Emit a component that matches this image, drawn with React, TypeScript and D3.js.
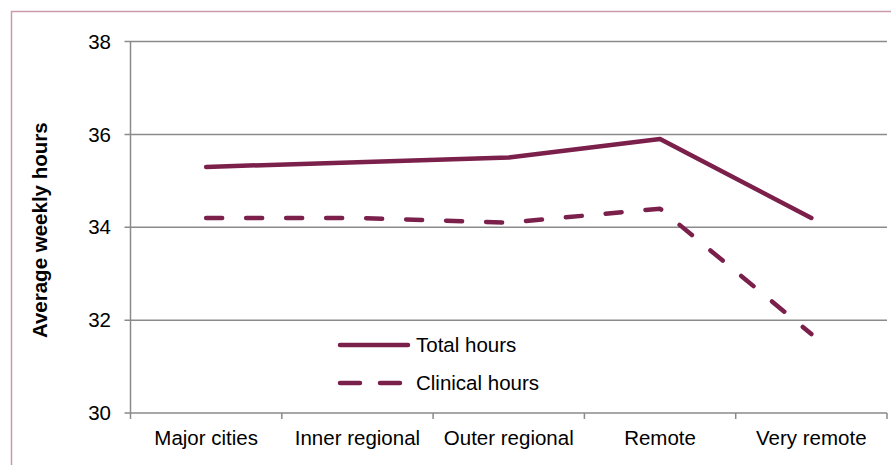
import React from "react";
import * as d3 from "d3";

const categories = ["Major cities", "Inner regional", "Outer regional", "Remote", "Very remote"];
const totalHours = [35.3, 35.4, 35.5, 35.9, 34.2];
const clinicalHours = [34.2, 34.2, 34.1, 34.4, 31.7];
const yTicks = [30, 32, 34, 36, 38];
const seriesNames = ["Total hours", "Clinical hours"];

const W = 891, H = 465;
const left = 130.5, right = 887, top = 41.5, bottom = 413;
const color = "#7b1f4b";
const grid = "#8a8a8a";
const font = "'Liberation Sans', Arial, sans-serif";
const fs = 20.5;

export default function App() {
  const x = d3.scaleBand<string>().domain(categories).range([left, right]);
  const y = d3.scaleLinear().domain([30, 38]).range([bottom, top]);
  const cx = (c: string) => (x(c) as number) + x.bandwidth() / 2;
  const line = d3.line<number>().x((_, i) => cx(categories[i])).y((d) => y(d));
  const edges = [...categories.map((c) => x(c) as number), right];

  return (
    <svg width={W} height={H} style={{ position: "absolute", left: 0, top: 0 }}>
      <rect x={0} y={0} width={W} height={H} fill="#fff" />
      <rect x={11.5} y={11.5} width={W} height={H} fill="none" stroke="#c99aac" strokeWidth={1.5} />
      {yTicks.map((t) => (
        <g key={t}>
          <line x1={left - 6} x2={right} y1={y(t)} y2={y(t)} stroke={grid} strokeWidth={1.5} />
          <text x={111} y={y(t)} dy="0.35em" textAnchor="end" fontFamily={font} fontSize={fs} fill="#000">
            {t}
          </text>
        </g>
      ))}
      <line x1={left} x2={left} y1={top} y2={bottom} stroke={grid} strokeWidth={1.5} />
      {edges.map((e, i) => (
        <line key={i} x1={e} x2={e} y1={bottom} y2={bottom + 6} stroke={grid} strokeWidth={1.5} />
      ))}
      {categories.map((c) => (
        <text key={c} x={cx(c)} y={445} textAnchor="middle" fontFamily={font} fontSize={fs} fill="#000">
          {c}
        </text>
      ))}
      <text
        transform={`translate(47,${(top + bottom) / 2 + 3}) rotate(-90)`}
        textAnchor="middle"
        fontFamily={font}
        fontSize={fs}
        fontWeight="bold"
        fill="#000"
      >
        Average weekly hours
      </text>
      <path
        d={line(totalHours) || ""}
        fill="none"
        stroke={color}
        strokeWidth={4.5}
        strokeLinejoin="round"
        strokeLinecap="round"
      />
      <path
        d={line(clinicalHours) || ""}
        fill="none"
        stroke={color}
        strokeWidth={4.5}
        strokeDasharray="16,24"
        strokeLinecap="round"
        strokeLinejoin="round"
      />
      <line x1={340} x2={408} y1={345} y2={345} stroke={color} strokeWidth={4.5} strokeLinecap="round" />
      <text x={416} y={345} dy="0.35em" fontFamily={font} fontSize={fs} fill="#000">
        {seriesNames[0]}
      </text>
      <line
        x1={340}
        x2={400}
        y1={383}
        y2={383}
        stroke={color}
        strokeWidth={4.5}
        strokeLinecap="round"
        strokeDasharray="20,20"
      />
      <text x={416} y={383} dy="0.35em" fontFamily={font} fontSize={fs} fill="#000">
        {seriesNames[1]}
      </text>
    </svg>
  );
}
